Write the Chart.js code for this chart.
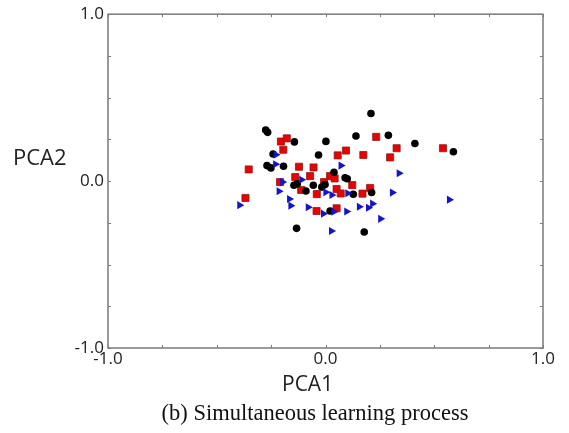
<!DOCTYPE html>
<html>
<head>
<meta charset="utf-8">
<script src="https://cdn.jsdelivr.net/npm/chart.js@4"></script>
<style>
  body { margin: 0; background: #fff; }
  #wrap { position: relative; width: 569px; height: 433px; }
  .lbl { position: absolute; font-family: 'Open Sans', sans-serif; color: #222; white-space: nowrap; }
  #ylab { left: 13px; top: 141px; font-size: 22px; }
  #xlab { left: 282px; top: 369px; font-size: 21px; }
  #cap { left: 0; width: 630px; text-align: center; top: 400px; font-family: 'Liberation Serif', 'Times New Roman', serif; font-size: 22.5px; color: #111; }
</style>
</head>
<body>
<div id="wrap">
  <canvas id="pca-chart" width="569" height="433"></canvas>
  <div class="lbl" id="ylab">PCA2</div>
  <div class="lbl" id="xlab">PCA1</div>
  <div class="lbl" id="cap">(b) Simultaneous learning process</div>
</div>
<script>
// tick labels shown on the axes
const tickLabels = [-1.0, 0.0, 1.0];

// black circles
const blackX = [0.209, -0.275, -0.266, -0.143, 0.002, 0.140, 0.289, 0.411, 0.588, -0.241, -0.032,
  -0.269, -0.251, -0.193, 0.039, 0.090, 0.100, -0.145, -0.130, -0.090, -0.056, -0.017, -0.002,
  0.128, 0.212, 0.021, -0.133, 0.178];
const blackY = [0.405, 0.306, 0.292, 0.235, 0.238, 0.270, 0.274, 0.225, 0.176, 0.162, 0.156,
  0.093, 0.079, 0.089, 0.053, 0.020, 0.014, -0.025, -0.016, -0.059, -0.025, -0.036, -0.020,
  -0.079, -0.068, -0.179, -0.283, -0.305];

// red squares
const redX = [-0.205, -0.178, -0.194, 0.233, 0.327, 0.297, 0.540, 0.094, 0.056, 0.174, -0.353,
  -0.122, -0.055, -0.139, -0.071, 0.021, 0.042, -0.007, -0.209, 0.123, -0.112, 0.051, -0.040,
  0.070, 0.170, 0.205, -0.368, -0.041, 0.051];
const redY = [0.237, 0.256, 0.188, 0.265, 0.197, 0.142, 0.197, 0.183, 0.154, 0.156, 0.070,
  0.086, 0.082, 0.024, 0.030, 0.030, 0.016, -0.006, -0.006, -0.024, -0.053, -0.047, -0.078,
  -0.074, -0.075, -0.041, -0.101, -0.179, -0.163];

// blue triangles
const blueX = [-0.228, -0.230, 0.071, 0.338, -0.198, -0.110, -0.214, 0.001, 0.029, 0.102, 0.307,
  -0.166, -0.160, -0.080, -0.395, -0.010, 0.038, 0.097, 0.155, 0.197, 0.216, 0.253, 0.027, 0.569];
const blueY = [0.158, 0.101, 0.093, 0.047, -0.006, 0.008, -0.061, -0.067, -0.083, -0.073, -0.069,
  -0.107, -0.147, -0.157, -0.144, -0.195, -0.183, -0.182, -0.154, -0.160, -0.135, -0.226, -0.299, -0.111];

const toPoints = (xs, ys) => xs.map((x, i) => ({ x, y: ys[i] }));

const AXIS = '#7a7a7a';

// frame + inward tick marks on all four sides
const framePlugin = {
  id: 'frame',
  afterDraw(chart) {
    const { ctx: c, chartArea: a, scales } = chart;
    c.save();
    c.strokeStyle = AXIS;
    c.lineWidth = 1.5;
    c.strokeRect(a.left, a.top, a.right - a.left, a.bottom - a.top);
    c.lineWidth = 1;
    const len = 3;
    scales.x.ticks.forEach(t => {
      const px = Math.round(scales.x.getPixelForValue(t.value)) + 0.5;
      c.beginPath();
      c.moveTo(px, a.bottom); c.lineTo(px, a.bottom - len);
      c.moveTo(px, a.top); c.lineTo(px, a.top + len);
      c.stroke();
    });
    scales.y.ticks.forEach(t => {
      const py = Math.round(scales.y.getPixelForValue(t.value)) + 0.5;
      c.beginPath();
      c.moveTo(a.left, py); c.lineTo(a.left + len, py);
      c.moveTo(a.right, py); c.lineTo(a.right - len, py);
      c.stroke();
    });
    c.restore();
  }
};

const tickFont = { family: "'Open Sans', sans-serif", size: 17 };
const showTick = v => tickLabels.some(l => Math.abs(l - v) < 1e-6) ? v.toFixed(1) : '';

new Chart(document.getElementById('pca-chart'), {
  type: 'scatter',
  data: {
    datasets: [
      { label: 'blue', data: toPoints(blueX, blueY), pointStyle: 'triangle', rotation: 90,
        pointRadius: 4.7, backgroundColor: '#1414cc', borderColor: '#1414cc', borderWidth: 0 },
      { label: 'black', data: toPoints(blackX, blackY), pointStyle: 'circle',
        pointRadius: 3.8, backgroundColor: '#000', borderColor: '#000', borderWidth: 0 },
      { label: 'red', data: toPoints(redX, redY), pointStyle: 'rect',
        pointRadius: 5, backgroundColor: '#ee0000', borderColor: '#8a1a1a', borderWidth: 0.8 }
    ]
  },
  options: {
    responsive: false,
    animation: false,
    layout: { padding: { left: 0, top: 10, right: 26, bottom: 0 } },
    plugins: { legend: { display: false }, tooltip: { enabled: false } },
    scales: {
      x: {
        type: 'linear', min: -1, max: 1,
        grid: { display: false, drawTicks: false }, border: { display: false },
        ticks: { stepSize: 0.25, autoSkip: false, maxRotation: 0, padding: 1, color: '#222',
          font: tickFont, callback: showTick },
        afterFit: s => { s.height = 85; }
      },
      y: {
        type: 'linear', min: -1, max: 1,
        grid: { display: false, drawTicks: false }, border: { display: false },
        ticks: { stepSize: 0.25, autoSkip: false, padding: 4, color: '#222',
          font: tickFont, callback: showTick },
        afterFit: s => { s.width = 108; }
      }
    }
  },
  plugins: [framePlugin]
});
</script>
</body>
</html>
